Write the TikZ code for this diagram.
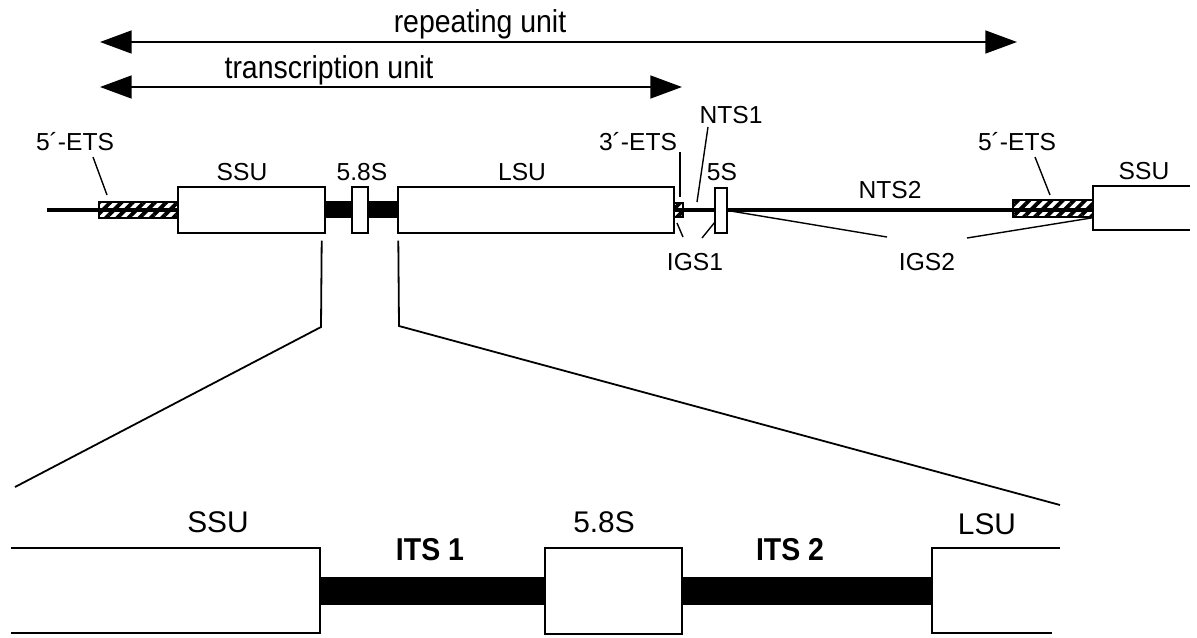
\documentclass[tikz,border=0pt]{standalone}
\usepackage{fontspec}
\setmainfont{Liberation Sans}
\newfontfamily\condfont[FakeStretch=0.9]{Liberation Sans}
\usetikzlibrary{arrows.meta,patterns.meta}
\newlength{\px}
\setlength{\px}{0.02cm}
\tikzset{
  gene/.style={draw, fill=white, line width=1.4\px, inner sep=0pt},
  boxsize/.style 2 args={minimum width=#1\px, minimum height=#2\px},
  spacer/.style={fill=black, inner sep=0pt},
  hatched/.style={draw, line width=1.4\px, inner sep=0pt,
    pattern={Lines[angle=45,distance=4.5pt,line width=2.2pt]}},
  backbone/.style={line width=4.5\px},
  leader/.style={line width=1.4\px},
  zoomline/.style={line width=1.8\px},
  span/.style={line width=2\px, {Triangle[length=18pt,width=13pt]}-{Triangle[length=18pt,width=13pt]}},
  toplbl/.style={font=\condfont\fontsize{18}{20}\selectfont, anchor=base, inner sep=0pt},
  midlbl/.style={font=\fontsize{14}{16}\selectfont, anchor=base, inner sep=0pt},
  botlbl/.style={font=\fontsize{17}{19}\selectfont, anchor=base, inner sep=0pt},
  itslbl/.style={font=\condfont\fontsize{18}{20}\selectfont\bfseries, anchor=base, inner sep=0pt},
}
\begin{document}
\begin{tikzpicture}[x=0.02cm,y=-0.02cm]
\useasboundingbox (0,0) rectangle (1197,637);
% units
\coordinate (rep1) at (100,42);
\coordinate (rep2) at (1017,42);
\coordinate (tra1) at (100,87);
\coordinate (tra2) at (682,87);
\draw[span] (rep1) -- (rep2);
\draw[span] (tra1) -- (tra2);
\node[toplbl] (replbl) at (480,32) {repeating unit};
\node[toplbl] (tralbl) at (329,78) {transcription unit};
% repeat of the rDNA
\coordinate (bb1) at (47,210);
\coordinate (bb2) at (1093,210);
\draw[backbone] (bb1) -- (bb2);
\node[hatched, boxsize={79}{16}] (etsa) at (138.5,210) {};
\node[gene, boxsize={147}{46}] (ssua) at (251.5,210) {};
\node[spacer, boxsize={73}{17}] (itsa) at (361.5,209.5) {};
\node[gene, boxsize={16}{46}] (smalla) at (360,210) {};
\node[gene, boxsize={276}{46}] (lsua) at (536,210) {};
\node[hatched, boxsize={9}{14}] (etsc) at (678.5,210) {};
\node[gene, boxsize={12}{45}] (fives) at (721,210.5) {};
\node[hatched, boxsize={80}{17}] (etsb) at (1053,208.5) {};
\draw[gene] (1190,186) -| (1093,230) -- (1190,230);
\coordinate (ssub) at (1093,208);
% labels
\node[midlbl] (etsalbl) at (75,150) {5´-ETS};
\node[midlbl] (ssualbl) at (242,180) {SSU};
\node[midlbl] (smallalbl) at (362,180) {5.8S};
\node[midlbl] (lsualbl) at (522,180) {LSU};
\node[midlbl] (etsclbl) at (638,150) {3´-ETS};
\node[midlbl] (ntsalbl) at (731,123) {NTS1};
\node[midlbl] (fiveslbl) at (722,180) {5S};
\node[midlbl] (igsalbl) at (695,270) {IGS1};
\node[midlbl] (ntsblbl) at (890,198) {NTS2};
\node[midlbl] (etsblbl) at (1017,150) {5´-ETS};
\node[midlbl] (ssublbl) at (1144,179) {SSU};
\node[midlbl] (igsblbl) at (927,270) {IGS2};
% leaders
\draw[leader] (93,157) -- (107,195);
\draw[leader] (680,152) -- (680,197);
\draw[leader] (708,127) -- (697,202);
\draw[leader] (683,237) -- (677,223);
\draw[leader] (702,238) -- (715,222);
\draw[leader] (1035,157) -- (1050,195);
\draw[leader] (887,237) -- (fives.east);
\draw[leader] (967,238) -- (ssub |- etsb.south);
% zoom
\draw[zoomline] (ssua.south east) ++(-4,7) -- (321,327) -- (15,487);
\draw[zoomline] (lsua.south west) ++(1,7) -- (399,326) -- (1060,505);
% ITS region
\node[spacer, boxsize={225}{28}] (itsone) at (432.5,591) {};
\node[spacer, boxsize={250}{28}] (itstwo) at (807,591) {};
\draw[gene] (11,548) -| (320,633) -- (11,633);
\node[gene, boxsize={137}{86}] (smallb) at (613.5,591) {};
\draw[gene] (1060,548) -- (932,548) -- (932,633) -- (1052,633);
\node[botlbl] (ssuclbl) at (218,532) {SSU};
\node[itslbl] (itsonelbl) at (430,560) {ITS 1};
\node[botlbl] (smallblbl) at (604,532) {5.8S};
\node[itslbl] (itstwolbl) at (790,560) {ITS 2};
\node[botlbl] (lsuclbl) at (987,534) {LSU};
\end{tikzpicture}
\end{document}
